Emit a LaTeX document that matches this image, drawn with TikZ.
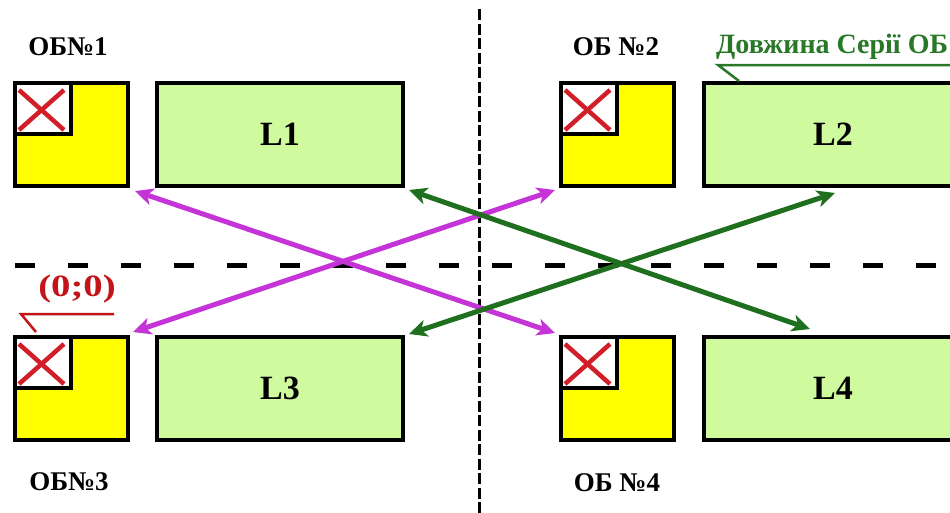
\documentclass[tikz,border=0pt]{standalone}
\usepackage{graphicx}
\usepackage{fontspec}
\setmainfont{Liberation Serif}
\usetikzlibrary{arrows.meta,calc}
\definecolor{lgreen}{RGB}{207,250,158}
\definecolor{ybox}{RGB}{255,255,0}
\definecolor{mag}{RGB}{196,52,214}
\definecolor{dgreen}{RGB}{30,112,30}
\definecolor{lblgreen}{RGB}{40,120,40}
\definecolor{xred}{RGB}{210,30,40}
\definecolor{ored}{RGB}{195,20,25}
\begin{document}
\begin{tikzpicture}[x=1pt,y=-1pt,
  obbox/.style={draw=black, line width=4pt, fill=ybox, minimum width=113pt, minimum height=103pt, inner sep=0pt, anchor=north west},
  lbox/.style={draw=black, line width=4pt, fill=lgreen, minimum height=103pt, inner sep=0pt, anchor=north west, font=\bfseries\fontsize{34}{34}\selectfont},
  inbox/.style={draw=black, line width=4pt, fill=white},
  xmark/.style={draw=xred, line width=4.5pt},
  oblabel/.style={font=\bfseries\fontsize{27}{27}\selectfont, inner sep=0pt},
  magarrow/.style={draw=mag, line width=5pt, {Stealth[length=18pt,width=17pt,inset=5pt]}-{Stealth[length=18pt,width=17pt,inset=5pt]}},
  grnarrow/.style={draw=dgreen, line width=5pt, {Stealth[length=18pt,width=17pt,inset=5pt]}-{Stealth[length=18pt,width=17pt,inset=5pt]}},
  hdash/.style={draw=black, line width=5pt, dash pattern=on 20pt off 33pt},
  vdash/.style={draw=black, line width=3pt, dash pattern=on 11pt off 3.5pt},
  leadg/.style={draw=lblgreen, line width=2.5pt},
  leadr/.style={draw=ored, line width=2.5pt}
]
\clip (0,0) rectangle (950,512);
\fill[white] (0,0) rectangle (950,512);

% dashed axes
\coordinate (hl) at (15,265);
\coordinate (hr) at (955,265);
\coordinate (vt) at (479,9);
\coordinate (vb) at (479,515);
\draw[hdash] (hl) -- (hr);
\draw[vdash] (vt) -- (vb);

% boxes
\node[obbox] (ob1) at (13,81) {};
\node[lbox, minimum width=246pt] (L1) at (155,81) {L1};
\node[obbox] (ob2) at (559,81) {};
\node[lbox, minimum width=258pt] (L2) at (702,81) {L2};
\node[obbox] (ob3) at (13,335) {};
\node[lbox, minimum width=246pt] (L3) at (155,335) {L3};
\node[obbox] (ob4) at (559,335) {};
\node[lbox, minimum width=258pt] (L4) at (702,335) {L4};

% inner squares with red crosses
\foreach \b in {ob1,ob2,ob3,ob4}{
  \draw[inbox] ($(\b.north west)+(2,2)$) rectangle ++(56,51);
  \draw[xmark] ($(\b.north west)+(6,9)$) -- ++(45,40);
  \draw[xmark] ($(\b.north west)+(51,9)$) -- ++(-45,40);
}

% labels
\node[oblabel] (t1) at (68,47) {ОБ№1};
\node[oblabel] (t2) at (616,47) {ОБ №2};
\node[oblabel] (t3) at (69,482) {ОБ№3};
\node[oblabel] (t4) at (617,483) {ОБ №4};

% series length label
\node[font=\bfseries\fontsize{28}{28}\selectfont, text=lblgreen, anchor=base west, inner sep=0pt] (dl) at (716,53) {Довжина Серії ОБ};
\draw[leadg] ($(L2.north west)+(37,0)$) -- ++(-21,-16) -- ++(232,0);

% origin label
\node[font=\bfseries\fontsize{31}{31}\selectfont, text=ored, inner sep=0pt] (orig) at (77,289) {\scalebox{1.25}[1]{(0;0)}};
\draw[leadr] ($(ob3.north west)+(23,-3)$) -- ++(-15,-18) -- ++(93,0);

% arrows
\draw[magarrow] ($(ob1.south east)+(5,3)$) -- ($(ob4.north west)+(-4,-2)$);
\draw[magarrow] ($(ob3.north east)+(3,-3)$) -- ($(ob2.south west)+(-4,2)$);
\draw[grnarrow] ($(L1.south east)+(4,2)$) -- ($(L4.north west)+(108,-6)$);
\draw[grnarrow] ($(L3.north east)+(4,-1)$) -- ($(L2.south west)+(133,5)$);
\end{tikzpicture}
\end{document}
